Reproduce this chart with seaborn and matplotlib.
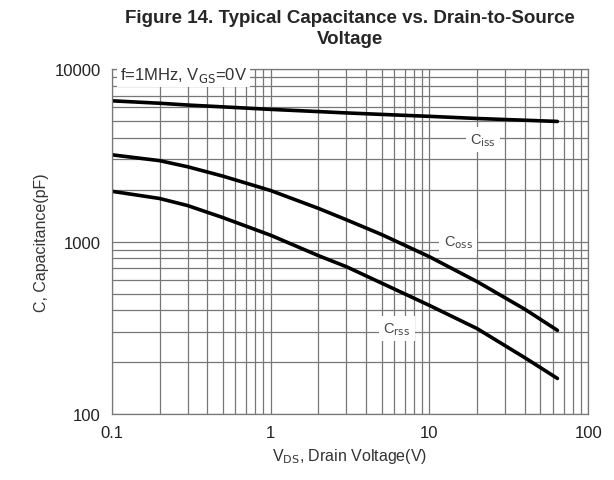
import numpy as np
import pandas as pd
import matplotlib.pyplot as plt
import seaborn as sns
from matplotlib.ticker import LogLocator, FixedLocator, FixedFormatter, NullFormatter

# Values (Vds in V, capacitance in pF)
vds = [0.1, 0.2, 0.3, 0.5, 1, 2, 3, 5, 10, 20, 40, 64]
ciss = [6560, 6350, 6200, 6050, 5850, 5680, 5580, 5470, 5330, 5180, 5060, 4980]
coss = [3190, 2950, 2720, 2400, 1980, 1560, 1340, 1100, 818, 586, 405, 306]
crss = [1960, 1780, 1620, 1380, 1090, 830, 716, 575, 427, 313, 212, 161]

labels = ["Ciss", "Coss", "Crss"]
label_text = [r"C$_{\rm iss}$", r"C$_{\rm oss}$", r"C$_{\rm rss}$"]
label_x = [21.8, 15.2, 6.25]
label_y = [3900, 1000, 313]

df = pd.DataFrame({
    "Vds": vds * 3,
    "C": ciss + coss + crss,
    "curve": [l for l in labels for _ in vds],
})

sns.set_style("white")
plt.rcParams['font.family'] = ['Liberation Sans', 'DejaVu Sans']

fig = plt.figure(figsize=(6.14, 4.81), dpi=100)
ax = fig.add_axes([0.182, 0.137, 0.776, 0.717])

sns.lineplot(data=df, x="Vds", y="C", units="curve", estimator=None,
             color="black", linewidth=2.6, ax=ax, legend=False)

ax.set_xscale("log")
ax.set_yscale("log")
ax.set_xlim(0.1, 100)
ax.set_ylim(100, 10000)

ax.xaxis.set_major_locator(FixedLocator([0.1, 1, 10, 100]))
ax.xaxis.set_major_formatter(FixedFormatter(["0.1", "1", "10", "100"]))
ax.yaxis.set_major_locator(FixedLocator([100, 1000, 10000]))
ax.yaxis.set_major_formatter(FixedFormatter(["100", "1000", "10000"]))
ax.xaxis.set_minor_locator(LogLocator(base=10, subs=np.arange(2, 10)))
ax.yaxis.set_minor_locator(LogLocator(base=10, subs=np.arange(2, 10)))
ax.xaxis.set_minor_formatter(NullFormatter())
ax.yaxis.set_minor_formatter(NullFormatter())

ax.grid(True, which="both", color="#777777", linewidth=0.9)
ax.tick_params(which="both", length=0, labelsize=12, pad=8, labelcolor="#222222")
for s in ax.spines.values():
    s.set_color("#777777")
    s.set_linewidth(0.9)

for t, x, y in zip(label_text, label_x, label_y):
    ax.text(x, y, t, fontsize=10.5, color="#444444", ha="center", va="center",
            bbox=dict(facecolor="white", edgecolor="none", pad=3))

ax.text(0.113, 9300, r"f=1MHz, V$_{\rm GS}$=0V", fontsize=12, color="#333333",
        ha="left", va="center", bbox=dict(facecolor="white", edgecolor="none", pad=2))

ax.set_xlabel(r"V$_{\rm DS}$, Drain Voltage(V)", fontsize=11.5, color="#333333")
ax.set_ylabel("C, Capacitance(pF)", fontsize=11.5, color="#333333")
ax.set_title("Figure 14. Typical Capacitance vs. Drain-to-Source\nVoltage",
             fontsize=13.5, fontweight="bold", linespacing=1.3, pad=19)

fig.savefig("out.png", dpi=100)
